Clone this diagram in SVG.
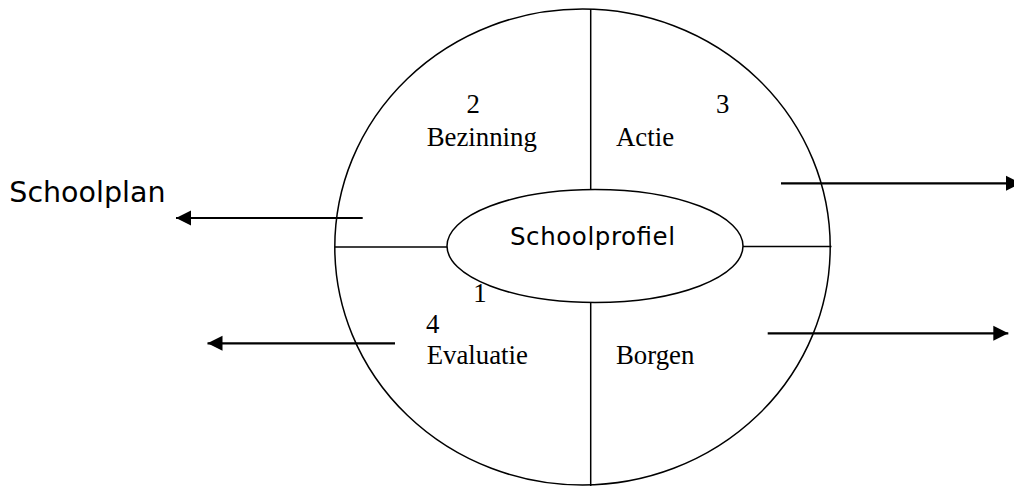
<svg xmlns="http://www.w3.org/2000/svg" width="1014" height="486" viewBox="0 0 1014 486">
<style>
.ln{stroke:#000;stroke-width:1.5;fill:none}
.ar{stroke:#000;stroke-width:2.2;fill:none}
.t{font-family:"Liberation Serif","Times New Roman",serif;font-size:26.8px;fill:#000}
.s{font-family:"DejaVu Sans",Verdana,sans-serif;fill:#000}
</style>
<defs>
<marker id="ah" markerWidth="16" markerHeight="16" refX="15" refY="8" orient="auto" markerUnits="userSpaceOnUse">
<path d="M0,0.5 L15,8 L0,15.5 Z" fill="#000"/>
</marker>
</defs>
<rect width="1014" height="486" fill="#fff"/>
<g id="cycle">
<ellipse class="ln" cx="582.5" cy="247" rx="247.7" ry="238"/>
</g>
<g id="dividers">
<line class="ln" x1="590.7" y1="9" x2="590.7" y2="189.5"/>
<line class="ln" x1="590.7" y1="302.5" x2="590.7" y2="486"/>
<line class="ln" x1="335" y1="247" x2="447" y2="247"/>
<line class="ln" x1="743" y1="246.5" x2="831.5" y2="246.5"/>
</g>
<g id="schoolprofiel">
<ellipse class="ln" cx="595" cy="246" rx="148" ry="56.5"/>
<text class="s" x="510" y="244.5" font-size="24.5" textLength="165" lengthAdjust="spacing">Schoolprofiel</text>
</g>
<g id="bezinning">
<text class="t" x="473.3" y="113" text-anchor="middle">2</text>
<text class="t" x="426.7" y="145.7">Bezinning</text>
</g>
<g id="actie">
<text class="t" x="722.7" y="113" text-anchor="middle">3</text>
<text class="t" x="616" y="145.7">Actie</text>
</g>
<g id="evaluatie">
<text class="t" x="480" y="301.7" text-anchor="middle">1</text>
<text class="t" x="432.7" y="333" text-anchor="middle">4</text>
<text class="t" x="426.7" y="364.3">Evaluatie</text>
</g>
<g id="borgen">
<text class="t" x="616" y="364.3">Borgen</text>
</g>
<g id="schoolplan">
<text class="s" x="9.3" y="201.7" font-size="28.5">Schoolplan</text>
</g>
<g id="connectors">
<line class="ar" x1="362.7" y1="218" x2="176" y2="218" marker-end="url(#ah)"/>
<line class="ar" x1="395" y1="343.3" x2="207.5" y2="343.3" marker-end="url(#ah)"/>
<line class="ar" x1="781" y1="183.3" x2="1021" y2="183.3" marker-end="url(#ah)"/>
<line class="ar" x1="767.7" y1="333.3" x2="1008.3" y2="333.3" marker-end="url(#ah)"/>
</g>
</svg>
